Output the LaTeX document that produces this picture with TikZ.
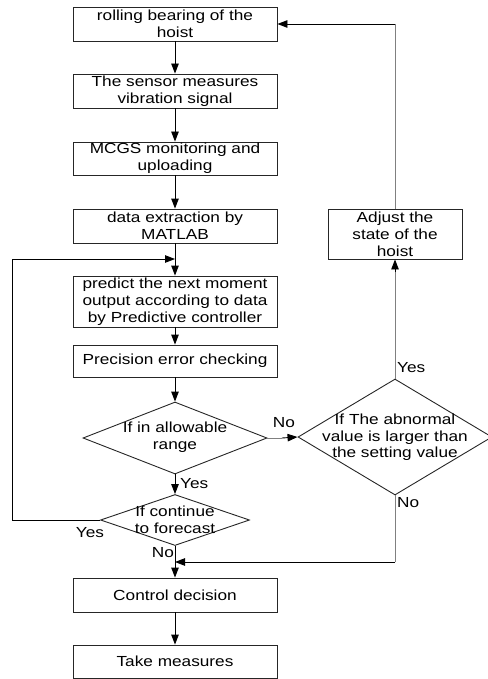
\documentclass[tikz,border=0pt]{standalone}
\usepackage{fontspec}
\setmainfont{Liberation Sans}[FakeStretch=1.18]
\usetikzlibrary{arrows.meta,shapes.geometric}
\begin{document}
\begin{tikzpicture}[x=1pt,y=-1pt,
  every node/.style={font=\fontsize{14.6}{17}\selectfont},
  box/.style={draw=black!85,line width=0.9pt,minimum width=204pt,inner sep=0pt,align=center},
  dia/.style={draw=black!85,line width=0.9pt,diamond,inner sep=0pt},
  lbl/.style={inner sep=0pt,align=center},
  flow/.style={line width=0.9pt,-{Triangle[length=10pt,width=7.5pt]}},
  grayline/.style={line width=0.9pt,draw=black!50},
  tag/.style={inner sep=0pt}]
\useasboundingbox (0,0) rectangle (487,679);

% main column
\node[box,minimum height=34pt] (b1) at (175,24) {rolling bearing of the\\hoist};
\node[box,minimum height=34pt] (b2) at (175,91) {The sensor measures\\vibration signal};
\node[box,minimum height=33pt] (b3) at (175,158.5) {MCGS monitoring and\\uploading};
\node[box,minimum height=34pt] (b4) at (175,226) {data extraction by\\MATLAB};
\node[box,minimum height=51pt] (b5) at (175,301.5) {predict the next moment\\output according to data\\by Predictive controller};
\node[box,minimum height=32pt] (b6) at (175,361) {Precision error checking};

% decisions
\node[dia,minimum width=184pt,minimum height=72pt] (d1) at (175,438) {};
\node[lbl] (t1) at (175,437.5) {If in allowable\\range};
\node[dia,minimum width=194pt,minimum height=116pt] (d2) at (395,437) {};
\node[lbl,font=\fontsize{14.6}{16.5}\selectfont] (t2) at (395,437.5) {If The abnormal\\value is larger than\\the setting value};
\node[dia,minimum width=149pt,minimum height=51pt] (d3) at (175,520) {};
\node[lbl] (t3) at (175,519.5) {If continue\\to forecast};

\node[box,minimum width=134pt,minimum height=50pt] (adj) at (395,234) {Adjust the\\state of the\\hoist};
\node[box,minimum height=34pt] (ctrl) at (175,595) {Control decision};
\node[box,minimum height=33pt] (take) at (175,661.5) {Take measures};

% helper points
\coordinate (loopin) at (175,259);
\coordinate (merge) at (175,562);
\coordinate (c1) at (12,520);
\coordinate (c2) at (12,259);
\coordinate (c3) at (395,562);
\coordinate (c4) at (395,24);

% straight flow
\draw[flow] (b1) -- (b2);
\draw[flow] (b2) -- (b3);
\draw[flow] (b3) -- (b4);
\draw[flow] (b4) -- (b5);
\draw[flow] (b5) -- (b6);
\draw[flow] (b6) -- (d1);
\draw[flow] (d1) -- (d3);
\draw[flow] (d3) -- (ctrl);
\draw[flow] (ctrl) -- (take);
\draw[grayline] (d1.east) -- (282,438);
\draw[flow] (282,438) -- (d2.west);

% forecast loop
\draw[line width=0.9pt] (d3.west) -- (c1) -- (c2);
\draw[flow] (c2) -- (loopin);

% abnormal branches
\draw[grayline] (d2.south) -- (c3);
\draw[flow] (c3) -- (merge);
\draw[grayline] (d2.north) -- (395,272);
\draw[flow] (395,272) -- (adj.south);
\draw[grayline] (adj.north) -- (c4);
\draw[flow] (c4) -- (b1.east);

% branch labels
\node[tag] (lno1) at (284,423) {No};
\node[tag,anchor=west] (lyes1) at (180,484) {Yes};
\node[tag] (lyes2) at (90,533) {Yes};
\node[tag] (lno2) at (163,553) {No};
\node[tag,anchor=west] (lyes3) at (397,368) {Yes};
\node[tag,anchor=west] (lno3) at (397,503) {No};
\end{tikzpicture}
\end{document}
